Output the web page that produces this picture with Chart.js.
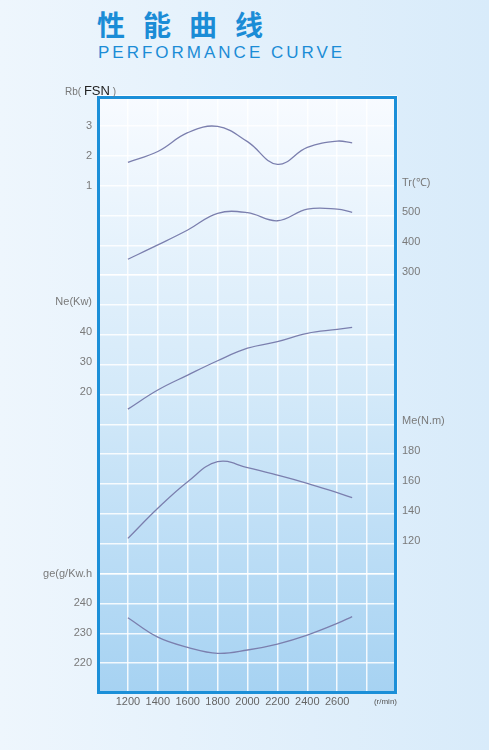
<!DOCTYPE html>
<html>
<head>
<meta charset="utf-8">
<script src="https://cdn.jsdelivr.net/npm/chart.js@4.4.1/dist/chart.umd.min.js"></script>
<style>
  html, body { margin: 0; padding: 0; }
  body {
    width: 489px; height: 750px; overflow: hidden; position: relative;
    background: linear-gradient(90deg, #eef6fd 0%, #d8ebfa 100%);
    font-family: 'Liberation Sans', Arial, sans-serif;
  }
  #wrap { position: absolute; left: 0; top: 0; width: 489px; height: 750px; }
  .title-cn {
    position: absolute; left: 97px; top: 6px; margin: 0;
    font-family: 'Noto Sans CJK SC', sans-serif; font-weight: bold;
    font-size: 28px; line-height: 36px; letter-spacing: 18px; color: #1b8cd6;
  }
  .title-en {
    position: absolute; left: 98px; top: 43px; margin: 0;
    font-size: 17px; line-height: 20px; letter-spacing: 3px; color: #1b8cd6;
  }
  .rb-label {
    position: absolute; left: 65px; top: 84px; white-space: nowrap;
    font-size: 10px; color: #777; line-height: 14px;
  }
  .rb-label b { font-size: 13px; font-weight: normal; color: #222; }
</style>
</head>
<body>
<div class="title-cn">性能曲线</div>
<div class="title-en">PERFORMANCE CURVE</div>
<div id="wrap"><canvas id="perfChart"></canvas></div>
<div class="rb-label">Rb( <b>FSN</b> )</div>
<script>
// engine speed (r/min)
const rpm = [1200, 1400, 1600, 1800, 2000, 2200, 2400, 2600, 2700];
const rpmTicks = [1200, 1400, 1600, 1800, 2000, 2200, 2400, 2600];

// curves
const rbValues = [1.78, 2.14, 2.77, 2.98, 2.47, 1.71, 2.28, 2.49, 2.43];
const trValues = [353, 401, 451, 507, 509, 482, 521, 521, 510];
const neValues = [15.1, 21.5, 26.5, 31.3, 35.5, 37.7, 40.5, 41.8, 42.5];
const meValues = [123.6, 143.8, 161.6, 175, 171, 166, 160.5, 154.2, 150.9];
const geValues = [235.2, 228.7, 225.3, 223.3, 224.4, 226.4, 229.4, 233.3, 235.6];

// tick labels shown on each axis
const rbTicks = [1, 2, 3];
const trTicks = [300, 400, 500];
const neTicks = [20, 30, 40];
const meTicks = [120, 140, 160, 180];
const geTicks = [220, 230, 240];

const lineColor = '#7b7fae';
const tickFont = { family: "'Liberation Sans', Arial, sans-serif", size: 11 };
const tickColor = '#7a7a7a';

function points(values) {
  return values.map((v, i) => ({ x: rpm[i], y: v }));
}

function curve(values, axis) {
  return {
    data: points(values),
    yAxisID: axis,
    borderColor: lineColor,
    borderWidth: 1.3,
    pointRadius: 0,
    tension: 0.4,
    fill: false
  };
}

// a y axis that only prints its own values plus its name one step above
function yAxis(position, stack, weight, min, max, step, ticks, name, offset) {
  const top = Math.max(...ticks) + step;
  return {
    type: 'linear',
    position: position,
    stack: stack,
    stackWeight: weight,
    min: min,
    max: max,
    border: { display: false },
    grid: {
      drawOnChartArea: position === 'left',
      drawTicks: false,
      color: 'rgba(255,255,255,0.85)',
      lineWidth: 1.5
    },
    ticks: {
      stepSize: step,
      autoSkip: false,
      padding: position === 'left' ? 6 : 5,
      labelOffset: offset,
      font: tickFont,
      color: tickColor,
      callback: (value) => {
        if (ticks.includes(value)) return String(value);
        if (name && value === top) return name;
        return '';
      }
    },
    afterFit: (scale) => { scale.width = position === 'left' ? 60 : 50; }
  };
}

// paints the plot panel and its frame
const panel = {
  id: 'panel',
  beforeDraw(chart) {
    const { ctx, chartArea: a } = chart;
    const g = ctx.createLinearGradient(0, a.top, 0, a.bottom);
    g.addColorStop(0, '#f8fbff');
    g.addColorStop(0.5, '#d3e9f9');
    g.addColorStop(1, '#a6d2f2');
    ctx.save();
    ctx.fillStyle = g;
    ctx.fillRect(a.left, a.top, a.right - a.left, a.bottom - a.top);
    ctx.restore();
  },
  afterDraw(chart) {
    const { ctx, chartArea: a } = chart;
    ctx.save();
    ctx.strokeStyle = '#1b8fd8';
    ctx.lineWidth = 3;
    ctx.strokeRect(a.left + 0.5, a.top + 1.5, a.right - a.left - 2, a.bottom - a.top - 2);
    ctx.restore();
  }
};

const ctx = document.getElementById('perfChart').getContext('2d');

const perfChart = new Chart(ctx, {
  type: 'line',
  data: {
    datasets: [
      curve(rbValues, 'rb'),
      curve(trValues, 'tr'),
      curve(neValues, 'ne'),
      curve(meValues, 'me'),
      curve(geValues, 'ge')
    ]
  },
  options: {
    responsive: true,
    maintainAspectRatio: false,
    animation: false,
    layout: { padding: { left: 38, right: 42, top: 96, bottom: 37 } },
    plugins: {
      legend: { display: false },
      tooltip: { enabled: false }
    },
    scales: {
      x: {
        type: 'linear',
        min: 1000,
        max: 3000,
        border: { display: false },
        grid: { drawTicks: false, color: 'rgba(255,255,255,0.85)', lineWidth: 1.5 },
        ticks: {
          stepSize: 200,
          autoSkip: false,
          maxRotation: 0,
          padding: 2,
          font: tickFont,
          color: '#666',
          callback: (value) => rpmTicks.includes(value) ? String(value) : ''
        },
        title: {
          display: true,
          text: '(r/min)',
          align: 'end',
          color: '#555',
          font: { family: "'Liberation Sans', Arial, sans-serif", size: 8 },
          padding: { top: 0, bottom: 6 }
        },
        afterFit: (scale) => { scale.height = 20; }
      },
      // left side, listed bottom to top
      ge: yAxis('left', 'L', 4, 210, 250, 10, geTicks, 'ge(g/Kw.h', 0),
      ne: yAxis('left', 'L', 10, -40, 60, 10, neTicks, 'Ne(Kw)', -3),
      rb: yAxis('left', 'L', 6, -2, 4, 1, rbTicks, null, 0),
      // right side, top to bottom
      tr: yAxis('right', 'R', 10, -100, 900, 100, trTicks, 'Tr(℃)', -3),
      me: yAxis('right', 'R', 10, 20, 220, 20, meTicks, 'Me(N.m)', -3)
    }
  },
  plugins: [panel]
});
</script>
</body>
</html>
